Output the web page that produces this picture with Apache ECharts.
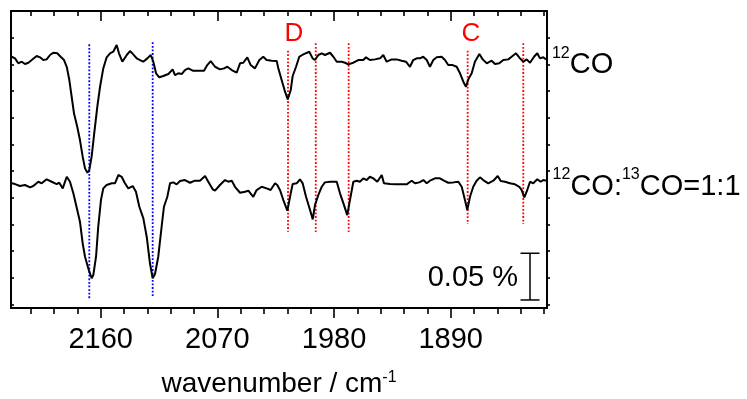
<!DOCTYPE html>
<html><head><meta charset="utf-8">
<script src="https://cdn.jsdelivr.net/npm/echarts@6/dist/echarts.min.js"></script>
<style>html,body{margin:0;padding:0;background:#fff}#c{width:747px;height:399px}</style>
</head><body><div id="c"></div>
<script>
const FONT = '"Liberation Sans", Arial, sans-serif';

// ---- data ----
const xMajorTicks = [2160, 2070, 1980, 1890];
const xMinorTicks = [2214, 2196, 2178, 2142, 2124, 2106, 2088, 2052, 2034, 2016, 1998, 1962, 1944, 1926, 1908, 1872, 1854, 1836, 1818];
const seriesNames = ['12CO', '12CO:13CO=1:1'];
const seriesLabelsRich = ['{s|12}{m|CO}', '{s|12}{m|CO:}{s|13}{m|CO=1:1}'];

const topWn = [2228.6,2226.1,2223.6,2220.9,2218.4,2215.8,2213.2,2209.4,2206.8,2204.3,2201.7,2199.1,2196.6,2193.5,2190.9,2188.3,2186.2,2184.2,2182.4,2180.6,2178.1,2176.0,2173.9,2172.1,2170.3,2168.8,2167.0,2165.0,2162.6,2160.5,2158.0,2155.4,2152.8,2150.3,2147.7,2145.9,2143.3,2139.9,2137.4,2134.9,2132.2,2129.7,2127.2,2124.0,2121.4,2119.4,2117.3,2114.8,2111.7,2107.8,2104.5,2102.7,2100.1,2097.5,2095.0,2092.4,2088.6,2083.4,2080.3,2077.8,2075.1,2071.8,2068.0,2064.9,2062.3,2058.9,2055.1,2052.5,2050.0,2046.9,2044.3,2041.0,2037.6,2034.6,2032.0,2028.1,2024.2,2023.0,2020.4,2017.8,2015.7,2013.4,2011.9,2009.3,2006.8,2003.7,1999.1,1996.5,1994.7,1992.1,1989.5,1987.0,1983.1,1980.5,1977.9,1974.1,1971.5,1969.0,1965.1,1961.3,1957.4,1955.3,1952.3,1948.4,1944.5,1942.0,1939.4,1935.5,1931.7,1927.8,1924.5,1921.4,1918.9,1916.2,1913.7,1911.2,1908.5,1906.0,1903.4,1900.8,1897.0,1894.4,1891.9,1888.5,1885.4,1882.8,1879.7,1878.2,1876.4,1873.8,1871.3,1867.9,1865.3,1862.2,1858.4,1855.8,1852.5,1849.4,1845.6,1843.0,1839.6,1836.5,1834.0,1831.4,1828.8,1825.7,1823.2,1821.1,1818.6,1816.5];
const topVal = [0.0035,0.0018,-0.0035,-0.0018,-0.0043,-0.0029,0.0000,0.0043,0.0029,0.0000,0.0007,0.0054,0.0078,0.0072,0.0035,0.0000,-0.0072,-0.0214,-0.0393,-0.0571,-0.0714,-0.0857,-0.1035,-0.1160,-0.1207,-0.1178,-0.1035,-0.0785,-0.0500,-0.0286,-0.0089,0.0029,0.0072,0.0089,0.0161,0.0072,-0.0018,0.0054,0.0096,0.0061,0.0018,0.0000,-0.0018,0.0018,0.0054,-0.0018,-0.0142,-0.0185,-0.0171,-0.0150,-0.0100,-0.0161,-0.0142,-0.0150,-0.0107,-0.0089,-0.0115,-0.0115,-0.0115,-0.0054,-0.0011,-0.0072,-0.0100,-0.0089,-0.0072,-0.0107,-0.0136,-0.0035,-0.0029,0.0029,-0.0054,-0.0089,0.0000,0.0035,0.0000,-0.0007,-0.0011,-0.0089,-0.0214,-0.0339,-0.0421,-0.0321,-0.0171,-0.0072,0.0035,0.0061,0.0089,0.0018,0.0000,0.0054,0.0072,0.0054,0.0078,0.0035,-0.0018,-0.0018,-0.0029,-0.0046,-0.0029,0.0000,0.0000,0.0029,0.0000,0.0007,0.0018,0.0054,-0.0018,0.0007,0.0007,-0.0007,-0.0018,-0.0072,0.0000,0.0018,0.0018,0.0035,0.0000,-0.0072,0.0000,0.0029,0.0035,0.0000,-0.0054,-0.0054,-0.0072,-0.0142,-0.0249,-0.0286,-0.0207,-0.0142,-0.0018,0.0064,0.0007,-0.0035,-0.0007,-0.0043,-0.0035,0.0000,0.0007,0.0035,0.0072,0.0018,-0.0018,0.0007,-0.0029,0.0035,0.0072,0.0018,0.0029,0.0007];

const botWn = [2228.6,2226.1,2222.3,2218.4,2214.5,2212.0,2208.1,2205.5,2201.7,2197.8,2194.0,2192.0,2189.3,2186.2,2183.7,2181.1,2178.1,2176.0,2173.9,2172.1,2169.6,2167.0,2165.7,2163.6,2161.9,2159.8,2158.0,2155.4,2151.5,2149.0,2146.4,2143.8,2141.3,2138.7,2135.3,2132.8,2130.2,2127.1,2124.5,2122.0,2119.9,2118.1,2115.6,2113.0,2111.2,2108.6,2106.5,2104.0,2101.4,2098.8,2095.0,2091.1,2087.3,2083.4,2079.5,2077.0,2073.6,2071.8,2068.0,2064.1,2061.6,2058.9,2056.4,2052.5,2048.7,2046.1,2042.3,2039.7,2035.8,2032.0,2028.9,2025.5,2023.8,2021.7,2019.1,2016.0,2013.4,2011.9,2008.8,2006.3,2004.2,2001.6,1998.5,1996.4,1994.7,1992.1,1989.5,1987.0,1983.1,1977.9,1975.4,1972.3,1969.8,1967.7,1965.1,1962.5,1960.0,1957.4,1954.8,1952.3,1949.7,1946.6,1943.2,1941.5,1936.8,1931.7,1924.0,1920.1,1917.5,1914.2,1911.1,1908.5,1906.0,1902.1,1898.3,1895.2,1891.9,1888.0,1884.1,1881.5,1879.0,1877.2,1875.1,1872.6,1870.0,1867.4,1864.9,1861.0,1857.1,1853.7,1851.4,1848.1,1844.3,1840.4,1837.1,1835.2,1833.2,1831.4,1828.8,1826.3,1823.2,1820.6,1818.6,1816.0];
const botVal = [-0.0003,-0.0011,-0.0032,-0.0021,-0.0046,-0.0032,0.0014,-0.0003,0.0040,0.0014,-0.0011,0.0003,-0.0057,0.0067,0.0014,-0.0110,-0.0289,-0.0414,-0.0646,-0.0789,-0.0913,-0.1020,-0.0985,-0.0789,-0.0468,-0.0182,-0.0057,-0.0021,-0.0003,-0.0003,0.0086,0.0067,-0.0003,-0.0057,-0.0032,-0.0093,-0.0254,-0.0378,-0.0575,-0.0860,-0.1020,-0.0974,-0.0789,-0.0468,-0.0254,-0.0147,-0.0003,0.0007,-0.0014,0.0021,0.0032,0.0003,0.0025,0.0025,0.0075,0.0014,-0.0067,-0.0082,-0.0021,0.0032,0.0014,0.0025,-0.0040,-0.0104,-0.0093,-0.0082,-0.0147,-0.0075,-0.0040,-0.0057,-0.0075,-0.0003,-0.0021,-0.0075,-0.0182,-0.0297,-0.0110,-0.0011,-0.0003,0.0040,-0.0003,-0.0147,-0.0289,-0.0389,-0.0236,-0.0128,-0.0040,0.0007,0.0014,0.0014,-0.0110,-0.0236,-0.0343,-0.0182,0.0014,0.0025,0.0014,0.0050,0.0032,0.0067,0.0050,0.0014,0.0086,-0.0003,-0.0011,-0.0014,-0.0014,0.0025,-0.0003,0.0007,0.0032,-0.0003,0.0025,0.0050,0.0050,0.0025,0.0003,0.0007,0.0014,-0.0040,-0.0182,-0.0289,-0.0147,-0.0040,0.0025,0.0061,0.0032,-0.0003,0.0025,0.0075,0.0021,0.0014,-0.0003,-0.0014,-0.0040,-0.0075,-0.0153,-0.0093,0.0014,-0.0003,0.0040,0.0014,0.0032,0.0025];

const topOffset = 0.2655;   // % (vertical stacking offset)
const botOffset = 0.1338;

// reference lines: [wavenumber, yTop, yBottom]
const blueLines = [[2168.8, 0.2823, 0.0086], [2119.9, 0.2845, 0.0121]];
const redLines = [[2015.5, 0.2755, 0.0817], [1994.1, 0.2834, 0.0814], [1968.7, 0.2834, 0.0814], [1876.9, 0.2755, 0.0899], [1834.0, 0.2834, 0.0899]];
const peakLabels = ['D', 'C'];
const peakLabelWn = [2010.9, 1874.5];
const peakLabelY = 0.2935;
const scaleBar = [1828.8, 0.0086, 0.0586];   // x, y0, y1  (0.05 %)
const scaleLabel = '0.05 %';

const X_MIN = 1815.7, X_MAX = 2229.2, Y_MIN = 0, Y_MAX = 0.318;
const Y_STEP = 0.028555;
const yTicks = [];
for (let k = 1; k <= 11; k++) yTicks.push(+(Y_MAX - k * Y_STEP).toFixed(5));

const topData = topWn.map((w, i) => [w, topVal[i] + topOffset]);
const botData = botWn.map((w, i) => [w, botVal[i] + botOffset]);
const endPoints = [
  [topWn[topWn.length - 1], topVal[topVal.length - 1] + topOffset, 0],
  [botWn[botWn.length - 1], botVal[botVal.length - 1] + botOffset, 1]
];

const chart = echarts.init(document.getElementById('c'), null, {renderer: 'canvas'});

const baseX = {
  type: 'value', min: X_MIN, max: X_MAX, inverse: true, gridIndex: 0,
  splitLine: {show: false},
  axisLine: {show: true, onZero: false, lineStyle: {color: '#000', width: 2}},
};

function xAxisDef(pos, ticks, len, inside, labels) {
  return Object.assign({}, baseX, {
    position: pos,
    axisTick: {show: true, inside: inside, length: len, customValues: ticks, lineStyle: {color: '#000', width: 1.6}},
    axisLabel: labels ? {show: true, customValues: ticks, margin: 17, fontSize: 29, fontFamily: FONT, color: '#000',
      formatter: function (v) { return String(Math.round(v)); }} : {show: false},
  });
}

const labelRich = {
  s: {fontSize: 16, fontFamily: FONT, fill: '#000', color: '#000', verticalAlign: 'top', lineHeight: 16},
  m: {fontSize: 29, fontFamily: FONT, fill: '#000', color: '#000', lineHeight: 40}
};

const xaxes = [
  xAxisDef('bottom', xMajorTicks, 10, false, true),
  xAxisDef('bottom', xMinorTicks, 6, false, false),
  xAxisDef('top', xMajorTicks, 10, true, false),
  xAxisDef('top', xMinorTicks, 5, true, false),
];
xaxes[0].name = 'wavenumber / cm{s|-1}';
xaxes[0].nameLocation = 'middle';
xaxes[0].nameGap = 62;
xaxes[0].nameTextStyle = {fontSize: 28, fontFamily: FONT, color: '#000',
  rich: {s: {fontSize: 16, fontFamily: FONT, color: '#000', verticalAlign: 'top', lineHeight: 16}}};

function yAxisDef(pos, inside) {
  return {
    type: 'value', min: Y_MIN, max: Y_MAX, position: pos, gridIndex: 0,
    splitLine: {show: false},
    axisLine: {show: true, onZero: false, lineStyle: {color: '#000', width: 2}},
    axisTick: {show: true, inside: inside, length: 3, customValues: yTicks, lineStyle: {color: '#000', width: 1.6}},
    axisLabel: {show: false}
  };
}

function vLineRender(color) {
  return function (params, api) {
    const p1 = api.coord([api.value(0), api.value(1)]);
    const p2 = api.coord([api.value(0), api.value(2)]);
    return {type: 'line', shape: {x1: p1[0], y1: p1[1], x2: p2[0], y2: p2[1]},
      style: {stroke: color, lineWidth: 1.8, lineDash: [1.8, 1.8]}};
  };
}

chart.setOption({
  animation: false,
  backgroundColor: '#fff',
  grid: {left: 11, right: 200, top: 11, bottom: 91, containLabel: false, outerBoundsMode: 'none'},
  xAxis: xaxes,
  yAxis: [yAxisDef('left', true), yAxisDef('right', false)],
  series: [
    {type: 'custom', name: 'blue', renderItem: vLineRender('#0000ff'), data: blueLines, z: 1},
    {type: 'custom', name: 'red', renderItem: vLineRender('#ff0000'), data: redLines, z: 1},
    {
      type: 'line', name: seriesNames[0], data: topData, showSymbol: false, symbol: 'none', z: 3,
      lineStyle: {color: '#000', width: 2}, itemStyle: {color: '#000'}
    },
    {
      type: 'line', name: seriesNames[1], data: botData, showSymbol: false, symbol: 'none', z: 3,
      lineStyle: {color: '#000', width: 2}, itemStyle: {color: '#000'}
    },
    {
      type: 'custom', name: 'seriesLabels', data: endPoints, clip: false,
      renderItem: function (params, api) {
        const p = api.coord([api.value(0), api.value(1)]);
        return {type: 'text', x: p[0] + 6, y: p[1] + 6,
          style: {text: seriesLabelsRich[api.value(2)], rich: labelRich, fill: '#000',
            align: 'left', verticalAlign: 'middle'}};
      }
    },
    {
      type: 'custom', name: 'peaks', data: peakLabelWn.map((w, i) => [w, peakLabelY, i]),
      renderItem: function (params, api) {
        const p = api.coord([api.value(0), api.value(1)]);
        return {type: 'text', x: p[0], y: p[1],
          style: {text: peakLabels[api.value(2)], fill: '#ff0000', fontSize: 26, fontFamily: FONT,
            align: 'center', verticalAlign: 'middle'}};
      }
    },
    {
      type: 'custom', name: 'scale', data: [scaleBar],
      renderItem: function (params, api) {
        const a = api.coord([api.value(0), api.value(1)]);
        const b = api.coord([api.value(0), api.value(2)]);
        const hw = 9.5;
        const st = {stroke: '#000', lineWidth: 1.5};
        return {type: 'group', children: [
          {type: 'line', shape: {x1: a[0], y1: a[1], x2: b[0], y2: b[1]}, style: st},
          {type: 'line', shape: {x1: a[0] - hw, y1: a[1], x2: a[0] + hw, y2: a[1]}, style: st},
          {type: 'line', shape: {x1: b[0] - hw, y1: b[1], x2: b[0] + hw, y2: b[1]}, style: st},
          {type: 'text', x: a[0] - 12, y: (a[1] + b[1]) / 2 + 1,
            style: {text: scaleLabel, fill: '#000', fontSize: 29, fontFamily: FONT, align: 'right', verticalAlign: 'middle'}}
        ]};
      }
    }
  ]
});
</script>
</body></html>
